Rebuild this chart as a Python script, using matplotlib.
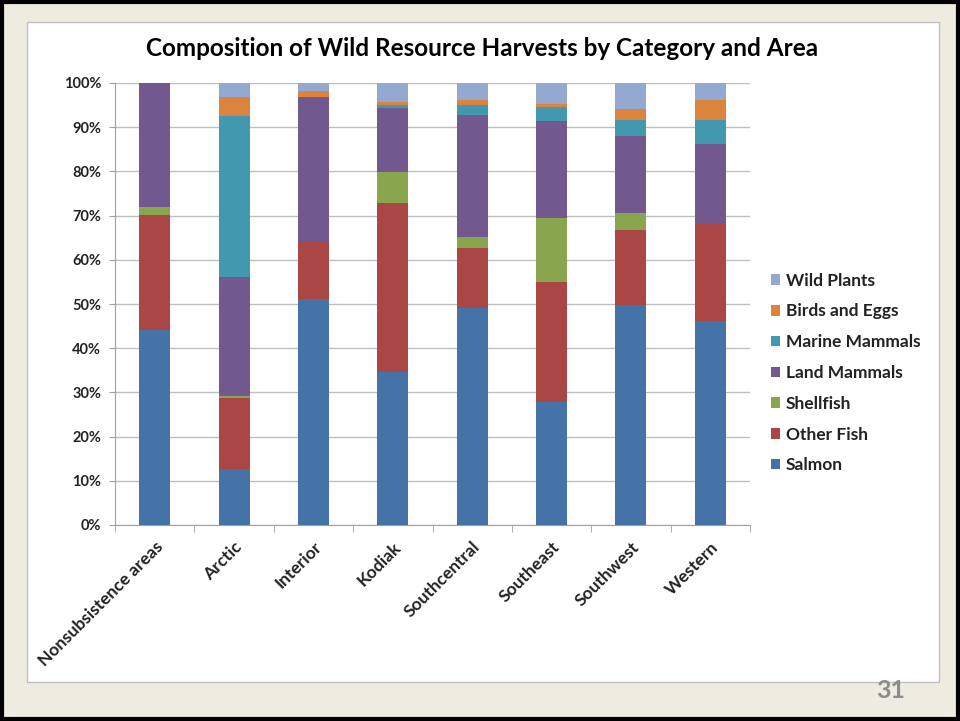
import matplotlib
matplotlib.use("Agg")
import matplotlib.pyplot as plt
from matplotlib.patches import Rectangle
import numpy as np

categories = ["Nonsubsistence areas", "Arctic", "Interior", "Kodiak",
              "Southcentral", "Southeast", "Southwest", "Western"]
salmon        = [44.2, 12.6, 51.2, 34.7, 49.0, 27.9, 49.7, 46.2]
other_fish    = [26.0, 16.2, 13.0, 38.2, 13.7, 27.0, 17.0, 22.2]
shellfish     = [1.8,  0.4,  0.0,  7.0,  2.5, 14.6,  3.8,  0.0]
land_mammals  = [28.0, 26.8, 32.6, 14.4, 27.6, 21.8, 17.6, 17.9]
marine_mammals= [0.0, 36.5,  0.0,  0.8,  2.3,  3.3,  3.5,  5.4]
birds_eggs    = [0.0,  4.3,  1.4,  0.5,  1.1,  0.6,  2.6,  4.4]
wild_plants   = [0.0,  3.2,  1.8,  4.4,  3.8,  4.8,  5.8,  3.9]
series_names = ["Salmon", "Other Fish", "Shellfish", "Land Mammals",
                "Marine Mammals", "Birds and Eggs", "Wild Plants"]
yticks = [0, 10, 20, 30, 40, 50, 60, 70, 80, 90, 100]
title = "Composition of Wild Resource Harvests by Category and Area"
page_number = "31"

colors = ["#4572A7", "#AA4643", "#89A54E", "#71588F", "#4198AF", "#DB843D", "#93A9CF"]
series = [salmon, other_fish, shellfish, land_mammals, marine_mammals, birds_eggs, wild_plants]

plt.rcParams['font.family'] = ['Lato', 'DejaVu Sans']

W, H = 960, 721
fig = plt.figure(figsize=(W/100, H/100), dpi=100)
fig.patch.set_facecolor("#EEEBE0")

# outer black frame
fig.patches.append(Rectangle((2/W, 2/H), 1 - 4/W, 1 - 4/H, transform=fig.transFigure,
                             fill=False, edgecolor="black", linewidth=3, zorder=-2))
# white chart panel
fig.patches.append(Rectangle((27/W, 1 - 682/H), (939-27)/W, (682-22)/H, transform=fig.transFigure,
                             facecolor="white", edgecolor="#C0C0C0", linewidth=1, zorder=-1))

ax = fig.add_axes([115/W, 1 - 525/H, 635/W, 442/H])
ax.set_zorder(5)
ax.set_facecolor("none")
x = np.arange(len(categories))
bottom = np.zeros(len(categories))
bars = []
for name, vals, c in zip(series_names, series, colors):
    b = ax.bar(x, vals, bottom=bottom, width=0.39, color=c, label=name, zorder=3)
    bars.append(b)
    bottom += np.array(vals)

ax.set_xlim(-0.5, len(categories) - 0.5)
ax.set_ylim(0, 100)
ax.set_yticks(yticks)
ax.set_yticklabels([f"{v}%" for v in yticks], fontsize=10.5, fontweight="bold", color="#222222")
ax.yaxis.grid(True, color="#BFBFBF", linewidth=1, zorder=0)
ax.set_axisbelow(True)
for s in ["top", "right"]:
    ax.spines[s].set_visible(False)
ax.spines["left"].set_color("#A0A0A0")
ax.spines["bottom"].set_color("#A0A0A0")
ax.tick_params(axis="y", length=4, color="#A0A0A0", pad=6)
ax.set_xticks(x)
ax.set_xticklabels(categories, rotation=45, ha="right", rotation_mode="anchor",
                   fontsize=12.5, fontweight="bold", color="#222222")
ax.tick_params(axis="x", length=0, pad=10)
# category boundary tick marks
ax.set_xticks(np.arange(len(categories) + 1) - 0.5, minor=True)
ax.tick_params(axis="x", which="minor", length=5, color="#A0A0A0")

fig.text((145+820)/2/W, 1 - 48/H, title, ha="center", va="center",
         fontsize=17.5, fontweight="bold", color="black")

handles = [b for b in bars][::-1]
labels = series_names[::-1]
leg = fig.legend(handles, labels, loc="center left", bbox_to_anchor=(764/W, 1 - 373/H),
                 frameon=False, prop={"size": 12.5, "weight": "bold"},
                 handlelength=0.55, handleheight=0.55, handletextpad=0.3, labelspacing=0.85,
                 borderaxespad=0, borderpad=0.4)
for t in leg.get_texts():
    t.set_color("#222222")

fig.text(891/W, 1 - 690/H, page_number, ha="center", va="center",
         fontsize=18, fontweight="bold", color="#8C8C8C")

fig.savefig("out.png", dpi=100, facecolor=fig.get_facecolor())
